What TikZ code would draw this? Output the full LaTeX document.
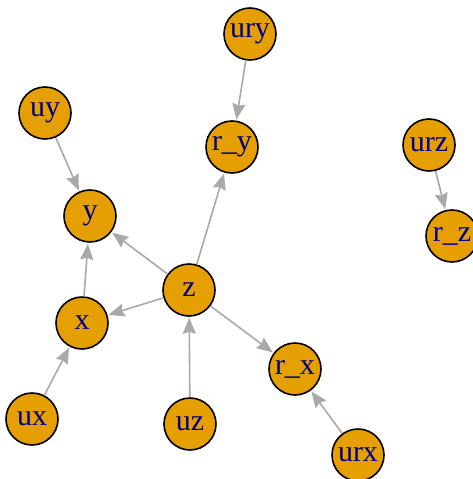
\documentclass[tikz,border=0pt]{standalone}
\usepackage{fontspec}
\setmainfont{Liberation Serif}
\usetikzlibrary{arrows.meta}
\definecolor{vfill}{HTML}{E69F00}
\definecolor{vtext}{RGB}{0,0,139}
\definecolor{egray}{HTML}{A9A9A9}
\tikzset{
  vert/.style={circle, draw=black, line width=1.6pt, fill=vfill, minimum size=52pt, inner sep=0pt,
    text=vtext, font=\fontsize{30}{30}\selectfont},
  edge/.style={draw=egray, line width=1.6pt, -{Stealth[length=16pt,width=13pt,inset=2pt]}, shorten >=1pt}
}
\begin{document}
\begin{tikzpicture}[x=1pt,y=-1pt]
\useasboundingbox (0,0) rectangle (473,479);
\node[vert] (ury) at (250,34) {ury};
\node[vert] (uy) at (45,113) {uy};
\node[vert] (ry) at (232,147) {r\_y};
\node[vert] (urz) at (429,145) {urz};
\node[vert] (y) at (90,216) {y};
\node[vert] (rz) at (452,236) {r\_z};
\node[vert] (z) at (189,290) {z};
\node[vert] (x) at (82,323) {x};
\node[vert] (rx) at (295,369) {r\_x};
\node[vert] (ux) at (32,419) {ux};
\node[vert] (uz) at (190,424) {uz};
\node[vert] (urx) at (358,455) {urx};
\draw[edge] (ury) -- (ry);
\draw[edge] (uy) -- (y);
\draw[edge] (urz) -- (rz);
\draw[edge] (z) -- (ry);
\draw[edge] (z) -- (y);
\draw[edge] (z) -- (x);
\draw[edge] (z) -- (rx);
\draw[edge] (x) -- (y);
\draw[edge] (ux) -- (x);
\draw[edge] (uz) -- (z);
\draw[edge] (urx) -- (rx);
\end{tikzpicture}
\end{document}
